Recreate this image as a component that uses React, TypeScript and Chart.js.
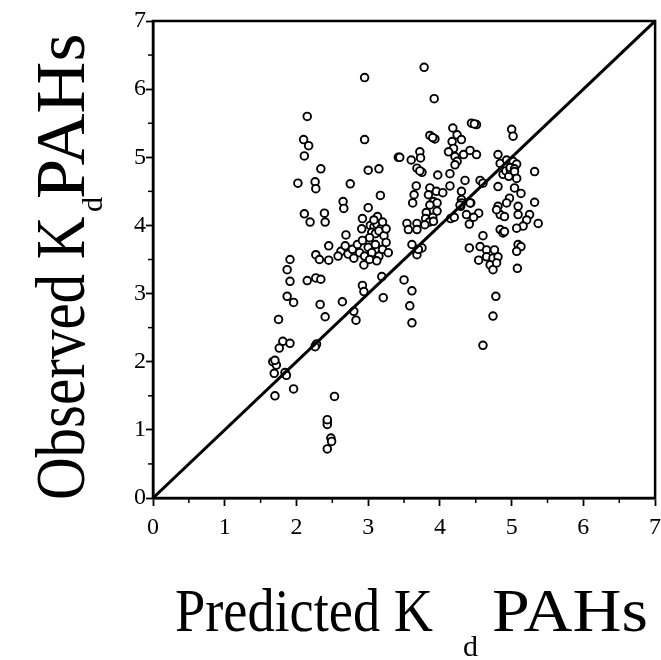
import React, { useEffect, useRef } from "react";
import { Chart, registerables } from "chart.js";

Chart.register(...registerables);

// Predicted Kd (x) and observed Kd (y) for each PAH sample
const predicted: number[] = [
  2.15, 2.10, 2.17, 2.11, 2.34, 2.02, 2.26, 2.27, 2.11, 2.19, 2.39, 2.40, 2.45, 1.91, 2.27, 2.32, 2.45,
  1.87, 1.91, 2.15, 2.27, 2.34, 1.87, 1.96, 2.33, 2.40, 1.75, 1.81, 1.91, 1.76, 1.67, 1.72, 1.69, 1.70,
  1.85, 1.84, 1.86, 2.27, 2.28, 2.26, 1.96, 1.70, 2.53, 2.43, 2.43, 2.43, 2.48, 2.49, 2.43,
  2.95, 2.95, 3.00, 3.15, 2.75, 3.17, 2.65, 2.66, 3.00, 2.92, 3.13, 2.91, 2.69, 3.42,
  3.03, 3.08, 3.12, 3.18, 3.05, 3.10, 3.15, 3.22, 3.02, 3.20, 3.25, 3.08,
  2.62, 2.68, 2.72, 2.78, 2.85, 2.88, 2.95, 3.00, 3.05, 3.10, 3.15, 3.20, 3.25, 2.92, 3.02, 3.12, 2.80, 3.28, 2.58,
  2.94, 3.19, 2.92, 2.94, 3.21, 2.64, 2.83, 2.80, 3.50, 3.61, 3.58, 3.61,
  3.78, 3.92, 4.44, 4.51, 4.48, 4.18, 4.24, 4.30, 3.86, 3.93, 3.90, 4.17, 4.19, 4.12, 4.21, 4.33, 4.42, 4.51,
  5.00, 5.02, 3.44, 3.60, 3.72, 3.73, 3.68, 3.75, 3.72, 4.24, 4.21, 3.97, 4.14, 4.81, 4.84, 4.35, 4.56, 4.60,
  4.81, 3.67, 3.64, 3.62, 3.86, 3.95, 4.04, 4.14, 3.84, 3.91, 3.96, 3.86, 4.30, 4.30, 4.29, 4.43, 3.81, 3.96,
  4.81, 4.84, 4.37, 4.54, 4.88, 4.92, 4.96, 4.98, 3.80, 3.90, 3.85, 3.54, 3.68, 3.56, 3.68, 3.79, 3.91,
  3.61, 3.68, 3.75, 3.70, 4.30, 4.28, 4.42, 4.47, 4.41, 4.79, 4.84, 4.88, 4.60,
  4.41, 4.56, 4.65, 4.76, 4.54, 4.65, 4.74, 4.81, 4.70, 4.74, 4.79, 4.78, 4.74, 4.60,
  4.93, 5.02, 5.07, 4.98, 5.04, 5.32, 5.04, 5.07, 5.04, 5.13, 4.97, 4.93, 5.32, 5.09, 5.09, 5.25, 5.21,
  4.90, 5.37, 5.16, 5.07, 4.90, 5.09, 5.13, 5.07, 5.08, 4.15, 4.20,
];

const observed: number[] = [
  5.60, 5.26, 5.17, 5.02, 4.83, 4.62, 4.64, 4.54, 4.17, 4.05, 4.18, 4.05, 3.70, 3.50, 3.57, 3.50, 3.49,
  3.35, 3.18, 3.19, 3.23, 3.21, 2.96, 2.87, 2.84, 2.66, 2.62, 2.30, 2.27, 2.20, 2.00, 1.95, 1.83, 2.02,
  1.82, 1.84, 1.80, 2.24, 2.26, 2.22, 1.60, 1.50, 1.49, 1.12, 1.08, 1.15, 0.88, 0.83, 0.72,
  6.17, 5.26, 4.81, 4.83, 4.61, 4.44, 4.35, 4.25, 4.26, 4.10, 4.13, 3.95, 3.86, 5.00,
  4.00, 3.98, 4.02, 3.96, 3.90, 3.88, 3.92, 3.85, 3.82, 4.05, 3.95, 4.08,
  3.62, 3.70, 3.58, 3.65, 3.72, 3.60, 3.55, 3.68, 3.60, 3.72, 3.55, 3.65, 3.75, 3.78, 3.50, 3.48, 3.52, 3.60, 3.55,
  3.42, 3.25, 3.12, 3.03, 2.94, 2.88, 2.61, 2.74, 3.20, 3.04, 2.82, 2.57,
  6.32, 5.86, 5.50, 5.48, 5.49, 5.43, 5.33, 5.26, 5.32, 5.27, 5.29, 5.23, 5.13, 5.08, 5.01, 5.04, 5.10, 5.04,
  5.41, 5.31, 5.00, 4.96, 5.08, 4.99, 4.84, 4.78, 4.80, 4.94, 4.89, 4.74, 4.76, 5.04, 4.91, 4.66, 4.66, 4.62,
  4.57, 4.58, 4.45, 4.33, 4.55, 4.50, 4.48, 4.58, 4.45, 4.35, 4.33, 4.30, 4.50, 4.38, 4.28, 4.33, 4.19, 4.21,
  4.28, 4.16, 4.16, 4.18, 4.75, 4.80, 4.72, 4.82, 4.10, 4.12, 4.05, 4.03, 4.03, 3.94, 3.94, 4.01, 4.06,
  3.72, 3.57, 3.67, 3.65, 4.33, 4.30, 4.33, 4.12, 4.02, 4.23, 3.94, 3.89, 3.85,
  3.67, 3.69, 3.64, 3.64, 3.49, 3.54, 3.52, 3.54, 3.42, 3.35, 3.45, 2.96, 2.67, 2.24,
  4.96, 4.94, 4.90, 4.85, 4.83, 4.79, 4.79, 4.69, 4.55, 4.47, 4.40, 4.33, 4.34, 4.28, 4.16, 4.16, 4.08,
  4.13, 4.03, 3.99, 3.96, 3.91, 3.72, 3.69, 3.62, 3.37, 4.10, 4.12,
];

// 1:1 reference line
const lineX: number[] = [0, 7];
const lineY: number[] = [0, 7];

const axisMin = 0;
const axisMax = 7;
const tickLabels: string[] = ["0", "1", "2", "3", "4", "5", "6", "7"];

const SERIF = '"Liberation Serif", "Times New Roman", serif';

function drawScaled(ctx: CanvasRenderingContext2D, text: string, x: number, y: number, sx: number, sy: number) {
  ctx.save();
  ctx.translate(x, y);
  ctx.scale(sx, sy);
  ctx.fillText(text, 0, 0);
  ctx.restore();
}

const framePlugin = {
  id: "frameAndTitles",
  afterDraw(chart: any) {
    const { ctx, chartArea } = chart;
    const xs = chart.scales.x;
    const ys = chart.scales.y;
    ctx.save();
    ctx.strokeStyle = "#000";
    ctx.fillStyle = "#000";
    // frame
    ctx.lineWidth = 2.5;
    ctx.strokeRect(chartArea.left, chartArea.top, chartArea.right - chartArea.left, chartArea.bottom - chartArea.top);
    // minor ticks
    ctx.lineWidth = 1.5;
    for (let v = axisMin + 0.5; v < axisMax; v += 1) {
      const px = xs.getPixelForValue(v);
      ctx.beginPath();
      ctx.moveTo(px, chartArea.bottom);
      ctx.lineTo(px, chartArea.bottom + 5);
      ctx.stroke();
      const py = ys.getPixelForValue(v);
      ctx.beginPath();
      ctx.moveTo(chartArea.left, py);
      ctx.lineTo(chartArea.left - 5, py);
      ctx.stroke();
    }
    ctx.textAlign = "left";
    ctx.textBaseline = "alphabetic";
    // x title
    ctx.font = `60px ${SERIF}`;
    drawScaled(ctx, "Predicted K", 175, 631, 0.905, 1.03);
    ctx.font = `30px ${SERIF}`;
    ctx.fillText("d", 463, 656);
    ctx.font = `60px ${SERIF}`;
    drawScaled(ctx, "PAHs", 492, 631, 1.13, 1.03);
    // y title
    ctx.translate(84, 500);
    ctx.rotate(-Math.PI / 2);
    ctx.font = `59px ${SERIF}`;
    drawScaled(ctx, "Observed K", 0, 0, 1.0, 1.19);
    ctx.font = `30px ${SERIF}`;
    ctx.fillText("d", 288, 18);
    ctx.font = `59px ${SERIF}`;
    drawScaled(ctx, "PAHs", 301, 0, 1.22, 1.19);
    ctx.restore();
  },
};

export default function App() {
  const ref = useRef<HTMLCanvasElement | null>(null);
  useEffect(() => {
    if (!ref.current) return;
    const points = predicted.map((x, i) => ({ x, y: observed[i] }));
    const line = lineX.map((x, i) => ({ x, y: lineY[i] }));
    const chart = new Chart(ref.current, {
      type: "scatter",
      data: {
        datasets: [
          {
            type: "scatter",
            label: "PAHs",
            data: points,
            pointRadius: 3.8,
            pointBorderWidth: 1.9,
            pointBorderColor: "#000",
            pointBackgroundColor: "#fff",
            order: 2,
          },
          {
            type: "line",
            label: "1:1",
            data: line,
            borderColor: "#000",
            borderWidth: 3,
            pointRadius: 0,
            order: 1,
          },
        ],
      },
      options: {
        animation: false,
        responsive: false,
        devicePixelRatio: 1,
        layout: { padding: { left: 0, right: 3, top: 21, bottom: 0 } },
        plugins: { legend: { display: false }, tooltip: { enabled: false } },
        scales: {
          x: {
            type: "linear",
            min: axisMin,
            max: axisMax,
            ticks: {
              stepSize: 1,
              color: "#000",
              font: { family: SERIF, size: 24 },
              padding: 7,
              maxRotation: 0,
              callback: (v: any) => tickLabels[Number(v)] ?? "",
            },
            grid: { drawOnChartArea: false, tickLength: 8, tickWidth: 1.8, tickColor: "#000" },
            border: { color: "#000", width: 2.5 },
            afterFit: (s: any) => {
              s.height = 162;
              s.paddingLeft = 0;
              s.paddingRight = 0;
            },
          },
          y: {
            type: "linear",
            min: axisMin,
            max: axisMax,
            ticks: {
              stepSize: 1,
              color: "#000",
              font: { family: SERIF, size: 24 },
              padding: 0,
              callback: (v: any) => tickLabels[Number(v)] ?? "",
            },
            grid: { drawOnChartArea: false, tickLength: 7, tickWidth: 1.8, tickColor: "#000" },
            border: { color: "#000", width: 2.5 },
            afterFit: (s: any) => {
              s.width = 153;
              s.paddingTop = 0;
              s.paddingBottom = 0;
            },
          },
        },
      },
      plugins: [framePlugin],
    });
    return () => chart.destroy();
  }, []);
  return (
    <div style={{ position: "fixed", left: 0, top: 0, width: 661, height: 660, background: "#fff" }}>
      <canvas ref={ref} width={661} height={660} style={{ width: 661, height: 660, display: "block" }} />
    </div>
  );
}
